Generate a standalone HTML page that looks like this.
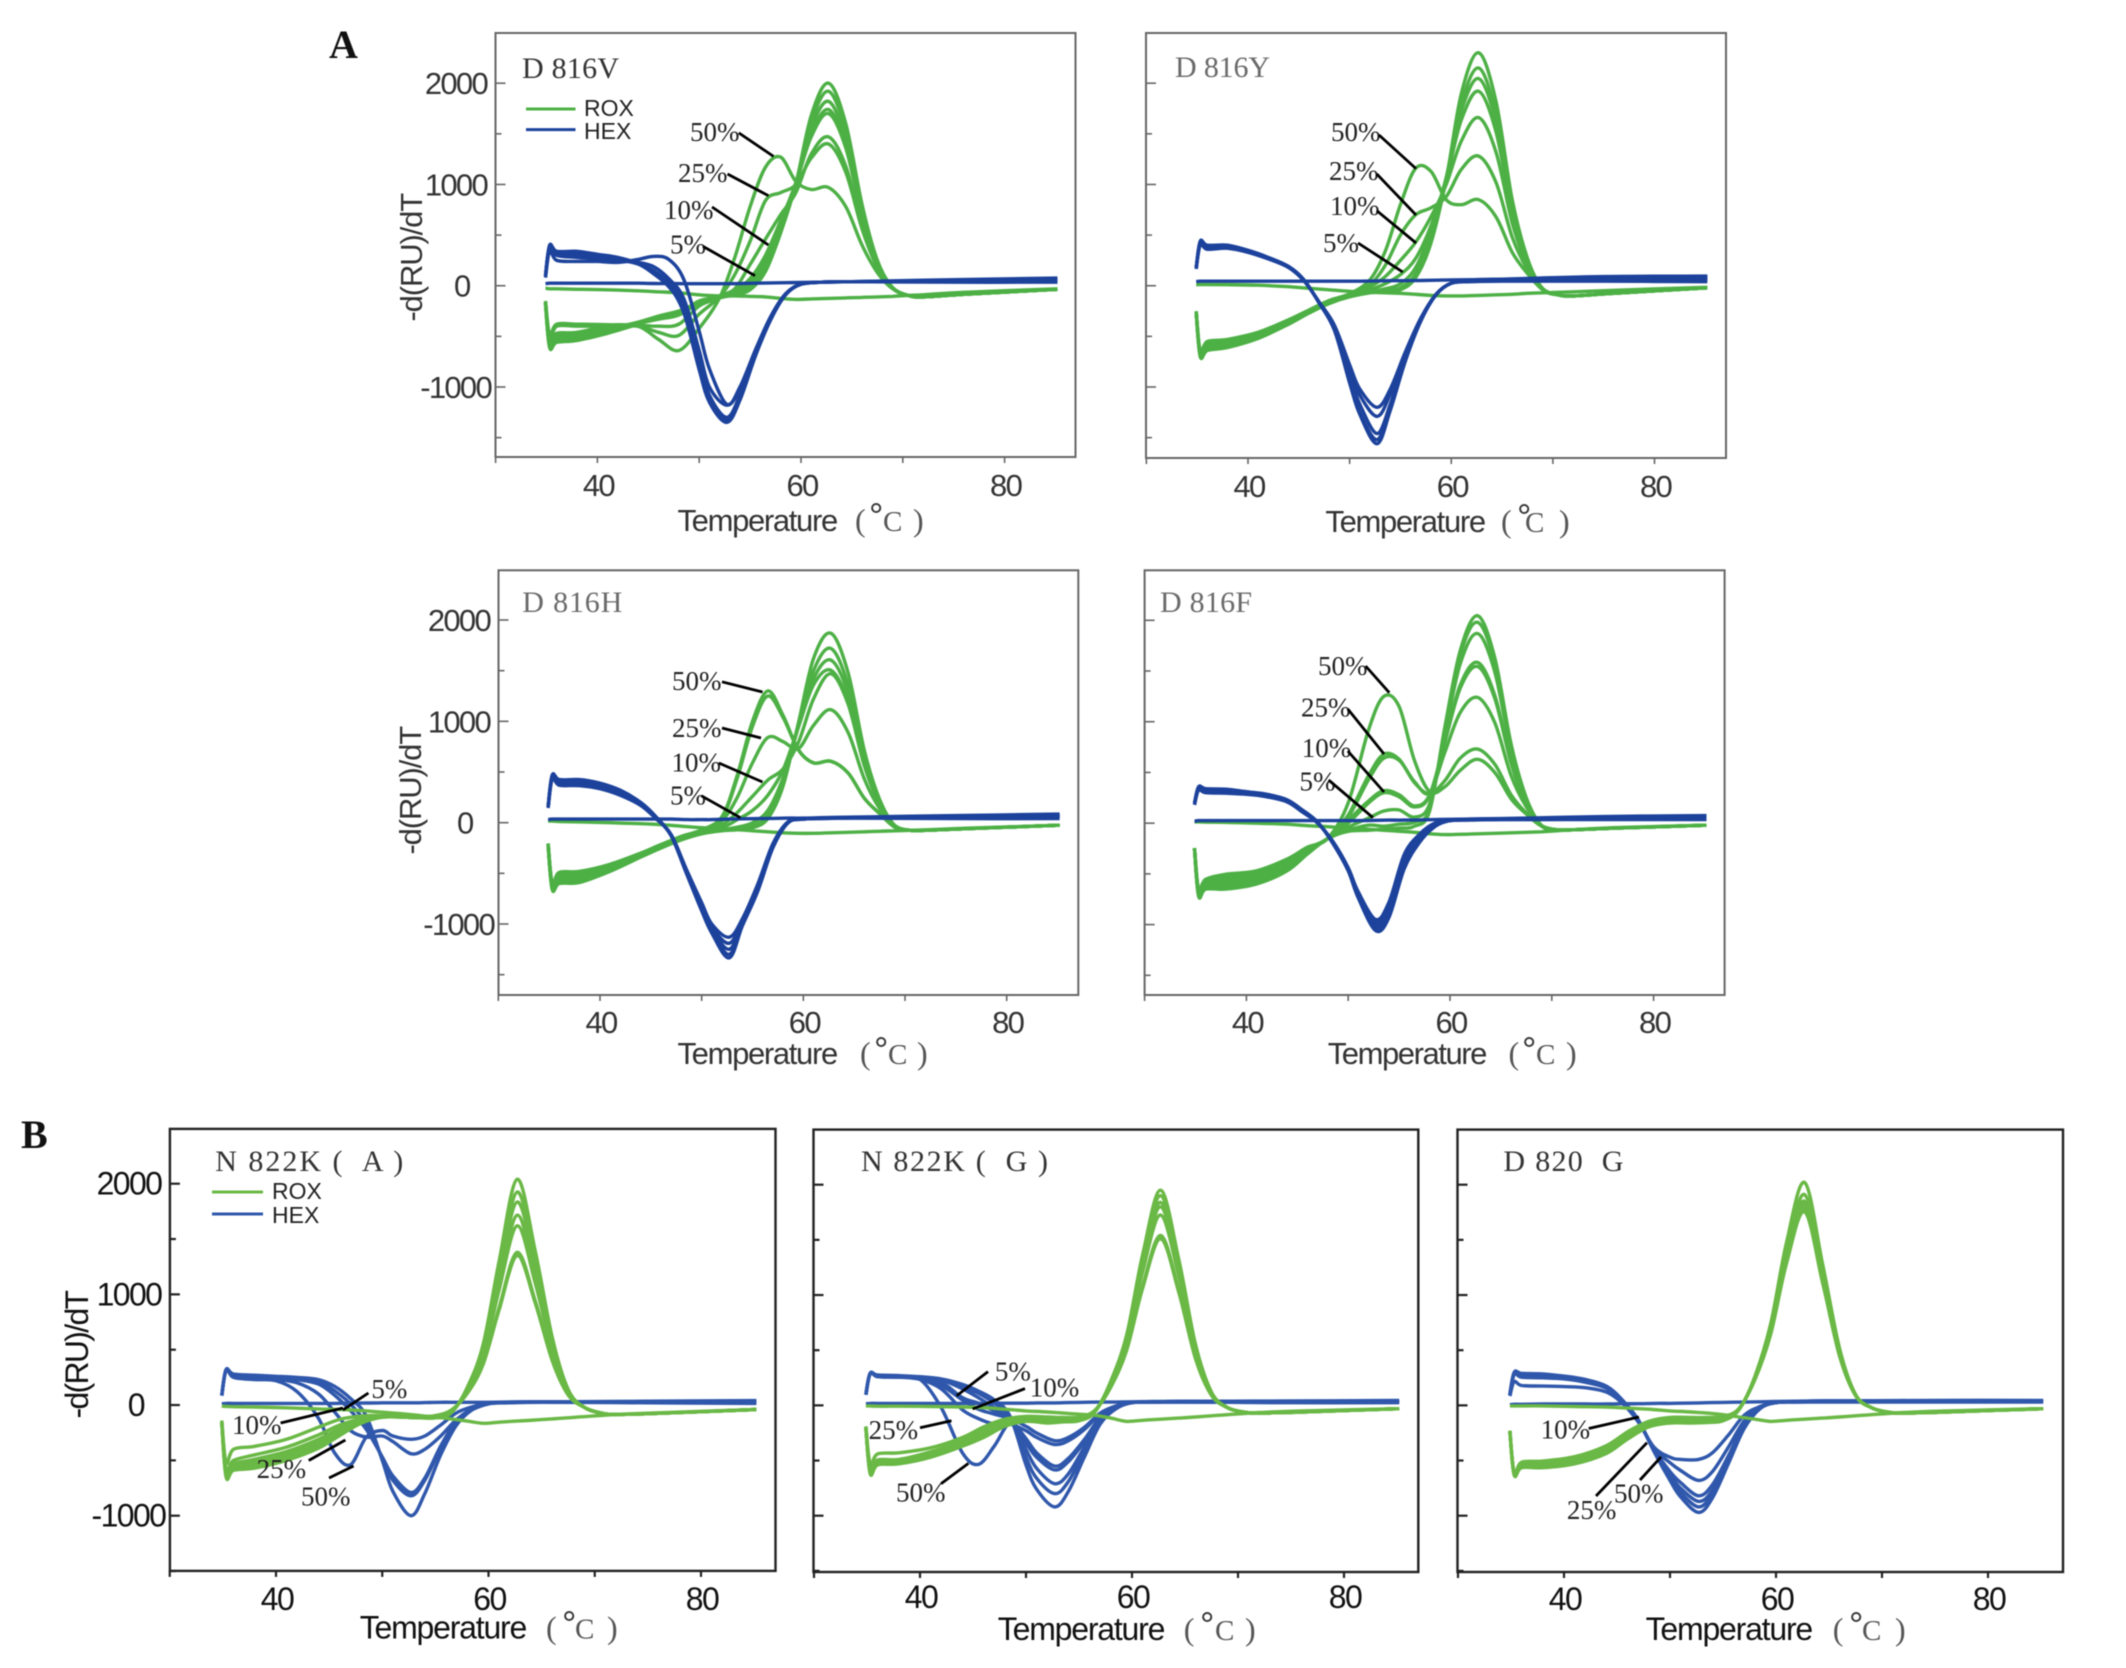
<!DOCTYPE html>
<html>
<head>
<meta charset="utf-8">
<title>Melting curves</title>
<style>
html,body{margin:0;padding:0;background:#fff;}
svg{display:block;filter:blur(0.5px);}
text{font-family:"Liberation Sans",sans-serif;}
.ser{font-family:"Liberation Serif",serif;}
.t{font-size:31px;fill:#333;letter-spacing:-1.7px;}
.tb{font-size:32px;fill:#111;letter-spacing:-1.6px;}
.ttl{font-size:30px;fill:#333;}
.ttlg{font-size:30px;fill:#6a6a6a;}
.p{font-size:27px;fill:#222;}
.par{font-size:32px;fill:#555;}
.c{font-size:29px;fill:#555;}
.deg{font-size:36px;fill:#333;}
.ld{stroke:#000;stroke-width:2.8;fill:none;}
.lg{font-size:23px;fill:#222;}
.fa{fill:none;stroke:#666;stroke-width:2;}
.fb{fill:none;stroke:#222;stroke-width:2.4;}
</style>
</head>
<body>
<svg id="figure" xmlns="http://www.w3.org/2000/svg" width="2126" height="1668" viewBox="0 0 2126 1668">
<rect width="2126" height="1668" fill="#fff"/>
<text class="ser" x="329" y="58" font-size="40" font-weight="bold" fill="#111">A</text>
<text class="ser" x="21" y="1148" font-size="40" font-weight="bold" fill="#111">B</text>

<g id="p1">
<rect class="fa" x="495.5" y="33" width="580" height="424"/>
<g id="p1-marks"></g>
<text class="ser ttl" x="522" y="78" textLength="97">D 816V</text>
<line x1="526" x2="575.5" y1="109" y2="109" stroke="#4db045" stroke-width="3"/>
<line x1="526" x2="575.5" y1="129.6" y2="129.6" stroke="#1c429c" stroke-width="3"/>
<text class="lg" x="584" y="116">ROX</text>
<text class="lg" x="584" y="139">HEX</text>
<text class="t" transform="translate(422,258) rotate(-90)" text-anchor="middle" textLength="127">-d(RU)/dT</text>
<text class="t" x="677.5" y="531" textLength="159">Temperature</text>
<text class="ser par" x="855" y="531">(</text>
<text class="deg" x="869" y="528">°</text>
<text class="ser c" x="883" y="531">C</text>
<text class="ser par" x="913" y="531">)</text>
<text class="ser p" x="690" y="141">50%</text>
<text class="ser p" x="678" y="182">25%</text>
<text class="ser p" x="664" y="219">10%</text>
<text class="ser p" x="670" y="253.6">5%</text>
<line class="ld" x1="738.8" y1="132.9" x2="773.5" y2="156.4"/>
<line class="ld" x1="727.5" y1="174" x2="768.4" y2="195.7"/>
<line class="ld" x1="712" y1="207" x2="768.4" y2="245"/>
<line class="ld" x1="703" y1="246.4" x2="755" y2="275.7"/>
</g>

<g id="p2">
<rect class="fa" x="1146" y="33" width="580" height="425"/>
<g id="p2-marks"></g>
<text class="ser ttlg" x="1175" y="77" textLength="95">D 816Y</text>
<text class="t" x="1325.4" y="532" textLength="159">Temperature</text>
<text class="ser par" x="1501" y="532">(</text>
<text class="deg" x="1517" y="529">°</text>
<text class="ser c" x="1525" y="532">C</text>
<text class="ser par" x="1559" y="532">)</text>
<text class="ser p" x="1331" y="141">50%</text>
<text class="ser p" x="1329" y="180">25%</text>
<text class="ser p" x="1330" y="215">10%</text>
<text class="ser p" x="1323" y="252">5%</text>
<line class="ld" x1="1379" y1="135" x2="1416" y2="168.6"/>
<line class="ld" x1="1376.8" y1="174" x2="1416" y2="215"/>
<line class="ld" x1="1376.8" y1="210.7" x2="1416" y2="243"/>
<line class="ld" x1="1358" y1="243" x2="1402.7" y2="272"/>
</g>

<g id="p3">
<rect class="fa" x="498.5" y="570.3" width="579.8" height="424.7"/>
<g id="p3-marks"></g>
<text class="ser ttlg" x="522.3" y="612" textLength="100">D 816H</text>
<text class="t" transform="translate(421,791) rotate(-90)" text-anchor="middle" textLength="127">-d(RU)/dT</text>
<text class="t" x="677.5" y="1064" textLength="159">Temperature</text>
<text class="ser par" x="860" y="1064">(</text>
<text class="deg" x="874" y="1062">°</text>
<text class="ser c" x="888" y="1064">C</text>
<text class="ser par" x="917" y="1064">)</text>
<text class="ser p" x="672" y="690">50%</text>
<text class="ser p" x="672" y="737">25%</text>
<text class="ser p" x="671.5" y="771.4">10%</text>
<text class="ser p" x="670" y="804.6">5%</text>
<line class="ld" x1="722" y1="681.8" x2="762.5" y2="692"/>
<line class="ld" x1="722" y1="728" x2="761" y2="738"/>
<line class="ld" x1="718.8" y1="763" x2="762.5" y2="782"/>
<line class="ld" x1="701.4" y1="795.8" x2="740.4" y2="817.7"/>
</g>

<g id="p4">
<rect class="fa" x="1144.6" y="570.3" width="580" height="424.7"/>
<g id="p4-marks"></g>
<text class="ser ttlg" x="1160" y="612" textLength="92">D 816F</text>
<text class="t" x="1327.7" y="1064" textLength="158">Temperature</text>
<text class="ser par" x="1508.5" y="1064">(</text>
<text class="deg" x="1522" y="1062">°</text>
<text class="ser c" x="1536" y="1064">C</text>
<text class="ser par" x="1566" y="1064">)</text>
<text class="ser p" x="1318" y="675">50%</text>
<text class="ser p" x="1301" y="716.3">25%</text>
<text class="ser p" x="1301.8" y="757">10%</text>
<text class="ser p" x="1299.5" y="790.7">5%</text>
<line class="ld" x1="1365.6" y1="666" x2="1389.3" y2="692.7"/>
<line class="ld" x1="1347.8" y1="709" x2="1384" y2="754"/>
<line class="ld" x1="1347.8" y1="751" x2="1384" y2="792"/>
<line class="ld" x1="1328.6" y1="780" x2="1373" y2="817.7"/>
</g>

<g id="p5">
<rect class="fb" x="169.9" y="1128.9" width="605.6" height="442"/>
<g id="p5-marks"></g>
<text class="ser ttl" x="215.3" y="1171" textLength="188" xml:space="preserve">N 822K (  A )</text>
<line x1="212" x2="263" y1="1192" y2="1192" stroke="#6ab845" stroke-width="3"/>
<line x1="212" x2="263" y1="1214" y2="1214" stroke="#2f57ab" stroke-width="3"/>
<text class="lg" x="272" y="1199">ROX</text>
<text class="lg" x="272" y="1223">HEX</text>
<text class="tb" transform="translate(88,1355) rotate(-90)" text-anchor="middle" textLength="127">-d(RU)/dT</text>
<text class="tb" x="359.7" y="1638.5" textLength="166">Temperature</text>
<text class="ser par" x="546" y="1638.5">(</text>
<text class="deg" x="562" y="1636" fill="#111">°</text>
<text class="ser c" x="575" y="1638.5">C</text>
<text class="ser par" x="607" y="1638.5">)</text>
<text class="ser p" x="371.4" y="1398">5%</text>
<text class="ser p" x="232" y="1433.8">10%</text>
<text class="ser p" x="256.6" y="1478">25%</text>
<text class="ser p" x="301" y="1505.7">50%</text>
<line class="ld" x1="368.4" y1="1393" x2="342.9" y2="1410"/>
<line class="ld" x1="280.6" y1="1423" x2="342.9" y2="1408"/>
<line class="ld" x1="308.7" y1="1460.5" x2="345.4" y2="1440"/>
<line class="ld" x1="329" y1="1478" x2="353.6" y2="1466"/>
</g>

<g id="p6">
<rect class="fb" x="813.5" y="1129.6" width="604.8" height="442.4"/>
<g id="p6-marks"></g>
<text class="ser ttl" x="861" y="1171" textLength="187" xml:space="preserve">N 822K (  G )</text>
<text class="tb" x="997.8" y="1640" textLength="166">Temperature</text>
<text class="ser par" x="1183.8" y="1640">(</text>
<text class="deg" x="1200" y="1637" fill="#111">°</text>
<text class="ser c" x="1215" y="1640">C</text>
<text class="ser par" x="1245" y="1640">)</text>
<text class="ser p" x="994.9" y="1380.5">5%</text>
<text class="ser p" x="1029.8" y="1396.5">10%</text>
<text class="ser p" x="868.6" y="1439">25%</text>
<text class="ser p" x="896" y="1501.5">50%</text>
<line class="ld" x1="988" y1="1371.6" x2="956.6" y2="1395.8"/>
<line class="ld" x1="1025" y1="1388.6" x2="972.6" y2="1409"/>
<line class="ld" x1="920" y1="1427.8" x2="951.5" y2="1420.7"/>
<line class="ld" x1="941" y1="1483.7" x2="968.4" y2="1463.4"/>
</g>

<g id="p7">
<rect class="fb" x="1457.5" y="1129.6" width="605.5" height="442.4"/>
<g id="p7-marks"></g>
<text class="ser ttl" x="1503.4" y="1171" textLength="120" xml:space="preserve">D 820  G</text>
<text class="tb" x="1645.6" y="1640" textLength="166">Temperature</text>
<text class="ser par" x="1832.8" y="1640">(</text>
<text class="deg" x="1849" y="1637" fill="#111">°</text>
<text class="ser c" x="1862" y="1640">C</text>
<text class="ser par" x="1895" y="1640">)</text>
<text class="ser p" x="1540.6" y="1438.5">10%</text>
<text class="ser p" x="1566.9" y="1519">25%</text>
<text class="ser p" x="1614" y="1502.5">50%</text>
<line class="ld" x1="1588.7" y1="1428.5" x2="1639" y2="1417"/>
<line class="ld" x1="1596" y1="1496" x2="1647" y2="1442.7"/>
<line class="ld" x1="1640" y1="1480" x2="1661" y2="1457"/>
</g>
</svg>

<script>
const roxTemps=[34.9,35.3,36,38,41,44,46,48,50,52,53.5,55,56.5,58,59.5,61,62.7,64.4,66,67.5,69,70.5,72,76,85.2];
const hexTemps=[34.9,35.3,36,38,40,42,44,45.5,47,48.5,50,51,52.7,54,55.5,57,58.5,60,62,65,75,85.2];
const yMajorTicks=[2000,1000,0,-1000];
const yMinorTicks=[1500,500,-500,-1500];
const yTickLabels=['2000','1000','0','-1000'];
const xMajorTicks=[40,60,80];
const xMinorTicks=[30,50,70];
const xTickLabels=['40','60','80'];

const d816vRox=[
[-180,-610,-560,-540,-470,-380,-310,-260,-190,-120,-90,-40,140,520,1010,1680,2000,1600,800,250,-20,-95,-110,-85,-35],
[-180,-600,-550,-530,-460,-370,-300,-250,-180,-115,-85,-30,160,530,1000,1620,1920,1530,770,240,-20,-95,-110,-85,-35],
[-170,-590,-540,-520,-450,-360,-300,-250,-170,-110,-70,0,200,560,1000,1560,1820,1450,730,230,-20,-95,-110,-85,-35],
[-170,-570,-520,-500,-430,-360,-310,-270,-150,-110,-60,30,260,620,1020,1500,1740,1390,700,220,-20,-95,-110,-85,-35],
[-170,-560,-500,-480,-420,-370,-330,-290,-170,-100,-40,70,300,640,1010,1470,1700,1360,680,210,-20,-95,-110,-85,-35],
[-160,-540,-470,-460,-400,-390,-400,-380,-200,-100,-30,210,460,700,920,1300,1470,1180,590,190,-20,-95,-110,-85,-35],
[-160,-520,-400,-400,-400,-400,-460,-490,-280,-110,110,440,840,920,1000,1260,1400,1120,560,180,-20,-95,-110,-85,-35],
[-150,-480,-380,-380,-385,-400,-530,-640,-420,-120,280,780,1170,1270,1030,950,970,780,400,130,-30,-95,-110,-85,-35],
[-25,-30,-30,-35,-40,-50,-60,-70,-90,-100,-100,-105,-110,-125,-135,-130,-125,-120,-115,-110,-105,-95,-90,-65,-30]
];
const d816vHex=[
[100,400,340,340,310,280,220,130,0,-270,-830,-1150,-1350,-1130,-700,-340,-90,15,35,40,60,75],
[100,390,330,320,300,270,215,120,-10,-240,-790,-1130,-1320,-1100,-680,-320,-85,15,35,40,50,65],
[100,380,320,300,280,260,215,150,30,-190,-720,-1080,-1300,-1080,-660,-310,-80,15,35,40,45,55],
[90,370,300,280,265,245,230,190,70,-130,-640,-1000,-1180,-1020,-640,-310,-80,15,35,40,40,45],
[80,340,250,240,240,230,260,290,260,60,-450,-820,-1170,-1000,-640,-310,-80,15,35,40,35,35],
[20,25,25,25,25,25,25,22,22,20,20,20,20,22,25,28,30,32,35,40,45,55]
];

const d816yRox=[
[-265,-700,-640,-610,-520,-380,-270,-175,-110,-70,-60,-40,80,420,1050,1900,2300,1820,850,270,-30,-90,-100,-75,-20],
[-265,-690,-630,-600,-510,-370,-265,-170,-105,-65,-50,-20,120,470,1060,1800,2150,1700,800,250,-30,-90,-100,-75,-20],
[-260,-680,-620,-590,-500,-360,-260,-165,-100,-60,-30,20,180,540,1070,1730,2045,1620,760,240,-30,-90,-100,-75,-20],
[-260,-670,-610,-580,-490,-355,-255,-160,-95,-40,20,110,270,590,1050,1640,1920,1520,710,230,-30,-90,-100,-75,-20],
[-255,-660,-590,-560,-480,-345,-250,-155,-90,-10,90,250,430,680,1000,1430,1660,1320,620,200,-30,-90,-100,-75,-20],
[-255,-650,-570,-550,-470,-340,-245,-150,-85,10,200,500,700,770,880,1150,1280,1020,480,160,-30,-90,-100,-75,-20],
[-250,-640,-550,-530,-460,-335,-240,-145,-80,60,340,800,1160,1130,850,800,850,680,330,120,-40,-90,-100,-75,-20],
[10,12,12,10,5,-10,-25,-40,-55,-65,-70,-75,-85,-95,-100,-100,-95,-90,-85,-75,-70,-65,-60,-45,-15]
];
const d816yHex=[
[176,440,400,400,350,280,190,60,-170,-440,-960,-1270,-1560,-1230,-740,-350,-90,25,50,65,90,95],
[176,430,390,395,345,275,185,55,-170,-430,-940,-1250,-1520,-1200,-730,-345,-90,25,45,60,80,85],
[170,420,380,385,340,270,185,55,-165,-410,-880,-1170,-1460,-1170,-710,-340,-90,25,45,55,65,70],
[170,410,370,375,335,270,180,50,-165,-400,-820,-1080,-1290,-1070,-670,-330,-85,25,45,50,55,55],
[165,400,360,370,330,265,180,50,-160,-390,-780,-1020,-1200,-1020,-650,-320,-85,25,40,45,45,40],
[40,45,45,45,45,45,45,45,45,45,45,45,48,50,50,52,55,58,60,65,70,80]
];

const d816hRox=[
[-220,-660,-600,-590,-480,-340,-250,-170,-110,-80,-70,-50,40,360,980,1620,1870,1480,710,230,-30,-75,-75,-60,-25],
[-220,-650,-590,-580,-470,-335,-245,-165,-105,-75,-60,-30,70,400,960,1500,1720,1360,650,210,-30,-75,-75,-60,-25],
[-220,-640,-580,-570,-465,-330,-240,-160,-100,-70,-45,0,120,440,940,1420,1605,1280,610,200,-30,-75,-75,-60,-25],
[-215,-630,-570,-560,-455,-325,-235,-155,-95,-50,30,120,270,520,940,1360,1505,1200,570,190,-30,-75,-75,-60,-25],
[-215,-620,-550,-540,-445,-320,-230,-150,-90,-20,100,260,420,530,790,1220,1470,1170,560,180,-30,-75,-75,-60,-25],
[-210,-610,-530,-520,-435,-315,-225,-145,-85,20,250,590,840,800,730,960,1115,890,430,140,-30,-75,-75,-60,-25],
[-205,-600,-510,-500,-420,-305,-220,-140,-75,50,440,950,1250,1040,720,590,605,490,240,90,-45,-75,-75,-60,-25],
[-205,-590,-490,-480,-410,-300,-215,-135,-70,60,470,1000,1300,1060,720,590,608,490,240,90,-45,-75,-75,-60,-25],
[15,15,12,8,0,-10,-20,-35,-50,-60,-70,-80,-90,-100,-105,-105,-100,-95,-90,-85,-80,-75,-70,-55,-25]
];
const d816hHex=[
[160,470,425,425,390,320,200,60,-130,-500,-870,-1090,-1335,-1020,-680,-250,0,35,50,55,70,85],
[155,460,415,415,380,310,195,55,-130,-490,-850,-1070,-1300,-1010,-660,-240,0,35,45,50,60,75],
[150,450,400,400,370,300,190,50,-125,-480,-830,-1050,-1250,-990,-640,-230,0,35,45,50,55,65],
[150,440,385,385,355,285,180,45,-120,-470,-810,-1030,-1190,-970,-630,-220,5,35,45,45,50,55],
[145,430,370,365,335,270,170,40,-120,-460,-790,-1000,-1130,-950,-610,-210,10,35,40,45,40,40],
[30,35,35,35,35,35,35,35,35,30,30,30,35,38,40,42,45,45,48,50,55,65]
];

const d816fRox=[
[-253,-720,-650,-650,-600,-470,-303,-153,-80,-70,-60,-50,-30,120,950,1700,2045,1630,780,250,-25,-65,-65,-50,-20],
[-253,-710,-640,-640,-585,-455,-295,-153,-70,-20,-30,-10,10,140,930,1660,1980,1580,750,240,-25,-65,-65,-50,-20],
[-250,-700,-625,-620,-570,-440,-285,-150,-40,50,120,130,60,190,880,1570,1870,1490,710,230,-25,-65,-65,-50,-20],
[-250,-690,-610,-600,-555,-420,-275,-150,0,200,300,260,160,270,810,1360,1585,1260,600,190,-25,-65,-65,-50,-20],
[-248,-680,-595,-580,-530,-400,-265,-150,30,220,320,280,170,280,800,1330,1545,1230,590,190,-25,-65,-65,-50,-20],
[-248,-670,-575,-550,-510,-385,-255,-150,60,430,640,620,410,300,700,1090,1240,990,470,160,-25,-65,-65,-50,-20],
[-245,-660,-560,-525,-490,-370,-245,-150,80,470,680,630,400,290,420,640,730,580,280,100,-25,-65,-65,-50,-20],
[-245,-650,-553,-503,-470,-353,-237,-150,200,920,1250,1150,620,310,360,520,630,500,240,90,-30,-65,-65,-50,-20],
[12,12,10,8,0,-10,-25,-35,-50,-60,-70,-80,-90,-105,-113,-110,-105,-100,-95,-90,-85,-75,-65,-45,-20]
];
const d816fHex=[
[200,360,340,335,310,285,230,130,10,-200,-470,-740,-1060,-930,-450,-190,-35,25,40,45,65,75],
[195,350,330,325,305,280,225,125,5,-195,-465,-730,-1040,-900,-420,-170,-25,25,35,40,55,65],
[190,340,320,315,300,275,220,120,5,-190,-460,-720,-1010,-860,-390,-150,-15,25,35,40,50,55],
[185,335,310,305,290,270,215,115,0,-185,-450,-700,-980,-820,-350,-130,-5,25,35,35,40,45],
[180,325,300,295,285,260,210,110,0,-180,-440,-680,-950,-780,-310,-110,0,25,30,35,35,35],
[20,25,25,25,25,25,25,25,25,25,25,25,28,30,30,32,35,38,40,42,48,55]
];

const n822kaRox=[
[-160,-650,-590,-570,-500,-390,-275,-165,-110,-110,-115,-115,-70,160,550,1300,2040,1390,610,140,-20,-70,-85,-75,-40],
[-160,-640,-580,-560,-490,-370,-255,-155,-110,-110,-115,-115,-70,150,520,1230,1925,1310,580,130,-20,-70,-85,-75,-40],
[-155,-630,-570,-540,-470,-350,-240,-150,-105,-110,-115,-110,-65,145,500,1180,1835,1250,550,125,-20,-70,-85,-75,-40],
[-155,-620,-550,-520,-450,-330,-225,-145,-105,-105,-110,-110,-60,135,470,1100,1715,1170,515,120,-20,-70,-85,-75,-40],
[-150,-600,-530,-490,-420,-310,-210,-135,-100,-105,-110,-105,-55,130,445,1040,1620,1100,490,110,-20,-70,-85,-75,-40],
[-150,-580,-500,-450,-380,-270,-180,-125,-100,-105,-105,-100,-50,110,380,880,1380,940,415,95,-20,-70,-85,-75,-40],
[-140,-520,-400,-373,-310,-200,-130,-100,-95,-100,-105,-95,-45,105,370,860,1350,920,400,90,-20,-70,-85,-75,-40],
[-10,-12,-15,-18,-25,-35,-40,-50,-65,-80,-95,-110,-125,-145,-165,-155,-145,-135,-125,-115,-105,-95,-85,-70,-40]
];
const n822kaHex=[
[90,320,280,270,260,250,230,170,60,-100,-500,-780,-1000,-800,-450,-180,-40,15,25,28,35,40],
[90,315,275,265,255,240,210,130,10,-170,-480,-680,-820,-680,-390,-150,-35,15,25,28,30,35],
[85,310,265,255,245,230,190,90,-50,-220,-470,-640,-790,-660,-370,-140,-30,15,25,28,30,30],
[85,320,260,240,230,200,100,-60,-230,-290,-280,-330,-440,-400,-280,-130,-40,10,25,25,25,25],
[85,320,250,230,220,120,-120,-430,-540,-290,-230,-280,-310,-280,-180,-70,-15,15,20,25,20,15],
[10,15,15,15,15,15,15,15,18,18,20,20,20,22,25,25,25,25,28,30,30,30]
];

const n822kgRox=[
[-210,-620,-540,-530,-470,-370,-290,-190,-145,-160,-150,-140,-60,220,640,1365,1950,1330,550,120,-20,-60,-70,-60,-30],
[-210,-610,-535,-525,-465,-365,-280,-185,-140,-155,-145,-135,-60,215,630,1330,1900,1290,530,115,-20,-60,-70,-60,-30],
[-205,-605,-530,-520,-455,-355,-270,-175,-130,-145,-140,-130,-55,210,610,1290,1840,1250,515,110,-20,-60,-70,-60,-30],
[-205,-600,-520,-510,-445,-345,-255,-165,-125,-135,-130,-120,-55,205,595,1260,1800,1225,505,110,-20,-60,-70,-60,-30],
[-200,-590,-510,-500,-430,-330,-240,-155,-115,-125,-125,-115,-50,195,570,1210,1725,1175,480,105,-20,-60,-70,-60,-30],
[-200,-580,-495,-490,-420,-320,-225,-145,-110,-115,-115,-110,-45,170,510,1080,1540,1050,430,95,-20,-60,-70,-60,-30],
[-190,-530,-440,-430,-385,-290,-195,-125,-100,-105,-110,-105,-45,165,500,1060,1510,1030,420,90,-20,-60,-70,-60,-30],
[-5,-5,-8,-8,-10,-15,-20,-35,-50,-60,-70,-80,-90,-115,-145,-135,-125,-115,-105,-95,-85,-75,-65,-50,-30]
];
const n822kgHex=[
[97,290,275,270,260,240,190,130,50,-100,-540,-760,-920,-780,-470,-170,-30,25,30,35,40,45],
[97,290,270,265,255,235,170,110,20,-110,-470,-660,-800,-690,-420,-150,-25,25,30,35,35,40],
[97,290,265,260,250,230,150,70,-20,-120,-400,-570,-710,-620,-380,-140,-20,25,30,35,35,35],
[97,290,265,260,245,210,70,20,-50,-120,-340,-470,-585,-510,-330,-120,-15,25,30,35,30,30],
[97,290,262,258,240,180,50,-35,-80,-130,-300,-430,-550,-480,-310,-110,-15,25,30,30,30,30],
[97,290,260,255,235,150,-40,-120,-170,-170,-230,-290,-355,-320,-220,-80,-10,25,30,30,25,25],
[97,290,260,255,235,-20,-430,-535,-370,-150,-190,-250,-320,-290,-200,-70,-5,25,30,30,25,25],
[15,18,18,18,18,18,18,18,20,20,20,22,22,25,28,30,30,32,35,35,35,35]
];

const d820gRox=[
[-240,-630,-565,-565,-530,-435,-305,-195,-160,-160,-155,-140,-40,260,740,1480,2020,1280,515,100,-20,-60,-70,-60,-30],
[-240,-630,-555,-555,-520,-425,-295,-185,-150,-150,-150,-135,-40,250,700,1400,1910,1210,490,95,-20,-60,-70,-60,-30],
[-235,-625,-545,-540,-505,-410,-285,-175,-140,-145,-140,-125,-35,245,680,1360,1850,1170,470,95,-20,-60,-70,-60,-30],
[-235,-620,-535,-530,-495,-400,-270,-165,-130,-135,-130,-120,-35,240,670,1340,1820,1150,465,90,-20,-60,-70,-60,-30],
[-230,-615,-525,-515,-480,-380,-255,-155,-120,-120,-120,-110,-30,235,655,1310,1785,1130,455,90,-20,-60,-70,-60,-30],
[-230,-610,-515,-505,-465,-365,-240,-145,-110,-110,-110,-100,-30,230,645,1290,1755,1110,445,90,-20,-60,-70,-60,-30],
[-5,-5,-5,-5,-10,-15,-25,-35,-50,-60,-70,-85,-105,-125,-145,-135,-125,-115,-105,-95,-85,-75,-65,-50,-30]
];
const d820gHex=[
[100,300,290,285,265,235,175,50,-130,-420,-680,-830,-970,-840,-530,-210,-30,25,35,40,45,45],
[100,295,285,280,260,230,170,45,-135,-410,-650,-790,-920,-800,-510,-200,-25,25,35,40,40,40],
[95,290,275,270,250,225,165,40,-140,-410,-630,-750,-870,-770,-490,-190,-25,25,35,40,40,40],
[95,285,265,260,245,220,160,40,-140,-400,-600,-700,-820,-720,-460,-170,-20,25,35,35,35,35],
[90,280,255,250,240,210,155,30,-140,-390,-520,-590,-680,-600,-380,-140,-15,25,30,35,35,35],
[85,215,180,175,170,160,120,20,-150,-380,-470,-490,-490,-430,-270,-90,-10,25,30,30,30,30],
[5,10,10,12,12,12,12,15,15,18,18,20,22,25,28,30,32,35,38,40,40,40]
];

const NS='http://www.w3.org/2000/svg';

function makeScale(d0,d1,r0,r1){
  return function(v){return r0+(v-d0)*(r1-r0)/(d1-d0);};
}

function curvePath(temps,values,sx,sy){
  const pts=temps.map(function(t,i){return [sx(t),sy(values[i])];});
  let d='M'+pts[0][0].toFixed(1)+' '+pts[0][1].toFixed(1);
  for(let i=0;i<pts.length-1;i++){
    const p0=pts[Math.max(0,i-1)],p1=pts[i],p2=pts[i+1],p3=pts[Math.min(pts.length-1,i+2)];
    const c1x=p1[0]+(p2[0]-p0[0])/6,c1y=p1[1]+(p2[1]-p0[1])/6;
    const c2x=p2[0]-(p3[0]-p1[0])/6,c2y=p2[1]-(p3[1]-p1[1])/6;
    d+=' C'+c1x.toFixed(1)+' '+c1y.toFixed(1)+' '+c2x.toFixed(1)+' '+c2y.toFixed(1)+' '+p2[0].toFixed(1)+' '+p2[1].toFixed(1);
  }
  return d;
}

function drawFamily(group,temps,family,color,sx,sy,name){
  family.forEach(function(values){
    const path=document.createElementNS(NS,'path');
    path.setAttribute('d',curvePath(temps,values,sx,sy));
    path.setAttribute('fill','none');
    path.setAttribute('stroke',color);
    path.setAttribute('stroke-width','3.4');
    path.setAttribute('stroke-linejoin','round');
    
    
    group.appendChild(path);
  });
}

function drawTick(group,x1,y1,x2,y2,color,width,name){
  const line=document.createElementNS(NS,'line');
  line.setAttribute('x1',x1);
  line.setAttribute('y1',y1);
  line.setAttribute('x2',x2);
  line.setAttribute('y2',y2);
  line.setAttribute('stroke',color);
  line.setAttribute('stroke-width',width);
  
  
  group.appendChild(line);
}

function drawLabel(group,x,y,anchor,cls,str,name){
  const el=document.createElementNS(NS,'text');
  el.setAttribute('x',x);
  el.setAttribute('y',y);
  el.setAttribute('text-anchor',anchor);
  el.setAttribute('class',cls);
  
  
  el.textContent=str;
  group.appendChild(el);
}

function drawPanel(id,box,rox,hex,opts){
  const group=document.getElementById(id+'-marks');
  const sx=makeScale(40,80,box.x40,box.x80);
  const sy=makeScale(2000,-1000,box.y2000,box.yNeg1000);
  const color=opts.dark?'#222':'#666';
  const width=opts.dark?2.2:1.6;
  const labelClass=opts.dark?'tb':'t';
  xMajorTicks.concat(xMinorTicks).forEach(function(v){
    drawTick(group,sx(v),box.bottom,sx(v),box.bottom+6,color,width,'x-tick');
  });
  yMajorTicks.forEach(function(v,i){
    drawTick(group,box.left,sy(v),box.left+10,sy(v),color,width,'y-tick-major');
    if(opts.yLabels){
      const gap=v===0?26:(v<0?4.5:8.5);
      drawLabel(group,box.left-gap,sy(v)+11,'end',labelClass,yTickLabels[i],'y-tick-label');
    }
  });
  yMinorTicks.forEach(function(v){
    drawTick(group,box.left,sy(v),box.left+6,sy(v),color,width,'y-tick-minor');
  });
  xMajorTicks.forEach(function(v,i){
    drawLabel(group,sx(v)+1,box.labelY,'middle',labelClass,xTickLabels[i],'x-tick-label');
  });
  if(opts.roxOnTop){
    drawFamily(group,hexTemps,hex,opts.hexColor,sx,sy,'hex-curve');
    drawFamily(group,roxTemps,rox,opts.roxColor,sx,sy,'rox-curve');
  }else{
    drawFamily(group,roxTemps,rox,opts.roxColor,sx,sy,'rox-curve');
    drawFamily(group,hexTemps,hex,opts.hexColor,sx,sy,'hex-curve');
  }
}

const panelA={roxColor:'#4db045',hexColor:'#1c429c',dark:false,roxOnTop:false};
const panelB={roxColor:'#6ab845',hexColor:'#2f57ab',dark:true,roxOnTop:true};

drawPanel('p1',{left:495.5,bottom:457,x40:597.4,x80:1004.6,y2000:83.2,yNeg1000:387,labelY:496},d816vRox,d816vHex,Object.assign({yLabels:true},panelA));
drawPanel('p2',{left:1146,bottom:458,x40:1248,x80:1654.5,y2000:83.2,yNeg1000:387,labelY:497},d816yRox,d816yHex,Object.assign({yLabels:false},panelA));
drawPanel('p3',{left:498.5,bottom:995,x40:600,x80:1006.7,y2000:620,yNeg1000:924,labelY:1033},d816hRox,d816hHex,Object.assign({yLabels:true},panelA));
drawPanel('p4',{left:1144.6,bottom:995,x40:1246.4,x80:1653.6,y2000:620.3,yNeg1000:924.6,labelY:1033},d816fRox,d816fHex,Object.assign({yLabels:false},panelA));
drawPanel('p5',{left:169.9,bottom:1570.9,x40:276,x80:701,y2000:1183.7,yNeg1000:1515.7,labelY:1610},n822kaRox,n822kaHex,Object.assign({yLabels:true},panelB));
drawPanel('p6',{left:813.5,bottom:1572,x40:920,x80:1344,y2000:1184.7,yNeg1000:1515.7,labelY:1608},n822kgRox,n822kgHex,Object.assign({yLabels:false},panelB));
drawPanel('p7',{left:1457.5,bottom:1572,x40:1564,x80:1988,y2000:1184.7,yNeg1000:1515.7,labelY:1610},d820gRox,d820gHex,Object.assign({yLabels:false},panelB));
</script>
</body>
</html>
